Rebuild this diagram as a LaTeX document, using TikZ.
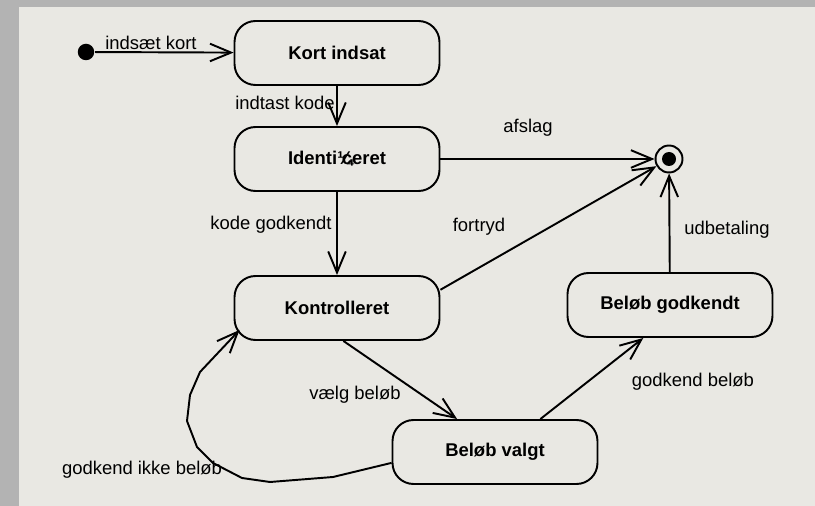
\documentclass[tikz,border=0pt]{standalone}
\usepackage{fontspec}
\setmainfont{Liberation Sans}
\usetikzlibrary{arrows.meta, calc}
\definecolor{kant}{RGB}{179,179,179}
\definecolor{papir}{RGB}{233,232,227}

\begin{document}
\begin{tikzpicture}[x=0.02cm, y=-0.02cm, line width=1.1pt,
		>={Straight Barb[length=12pt,width=10pt]},
		tilstand/.style={draw, rounded corners=0.42cm, minimum width=4.1cm, minimum height=1.28cm,
			font=\fontsize{10.5}{12}\selectfont\bfseries},
		tekst/.style={font=\fontsize{10.5}{12}\selectfont, inner sep=0pt}]
		
		\fill[kant] (0,0) rectangle (815,506);
		\fill[papir] (19,7) rectangle (815,506);
		\useasboundingbox (0,0) rectangle (815,506);
		
		% tilstande
		\node[tilstand] (kort) at (337,53) {Kort indsat};
		\node[tilstand] (ident) at (337,159) {Identi\rlap{¼}\kern.25em ceret};
		\node[tilstand] (kontr) at (337,308) {Kontrolleret};
		\node[tilstand] (godk) at (670,305) {Beløb godkendt};
		\node[tilstand] (valgt) at (495,452) {Beløb valgt};
		\node[circle, fill, inner sep=0, minimum size=0.33cm] (start) at (86,52) {};
		\node[circle, draw, inner sep=0, minimum size=0.54cm] (slut) at (669,159) {};
		\fill (slut) circle (0.14cm);
		
		% overgange
		\draw[->] (start) -- (kort);
		\draw[->] (kort) -- (ident);
		\draw[->] (ident) -- (slut);
		\draw[->] (ident) -- (kontr);
		\draw[->] (kontr.10) -- (slut);
		\draw[->] (godk) -- (slut);
		\draw[->] (kontr.-79) -- (valgt.139);
		\draw[->] (valgt.36) -- (godk.231);
		\draw[->] (valgt.186) -- (333,477) -- (270,482) -- (242,478) -- (213,463) -- (197,447)
			-- (187,421) -- (190,395) -- (200,372) -- ($(kontr.south west)+(6,-11)$);
		
		\node[tekst] (tindsaet) at (151,43) {indsæt kort};
		\node[tekst] (tindtast) at (285,103) {indtast kode};
		\node[tekst] (tafslag) at (528,128) {afslag};
		\node[tekst] (tkode) at (271,225) {kode godkendt};
		\node[tekst] (tfortryd) at (479,227) {fortryd};
		\node[tekst] (tudbet) at (727,230) {udbetaling};
		\node[tekst] (tvaelg) at (355,395) {vælg beløb};
		\node[tekst] (tgodk) at (693,382) {godkend beløb};
		\node[tekst] (tikke) at (142,470) {godkend ikke beløb};
\end{tikzpicture}
\end{document}
